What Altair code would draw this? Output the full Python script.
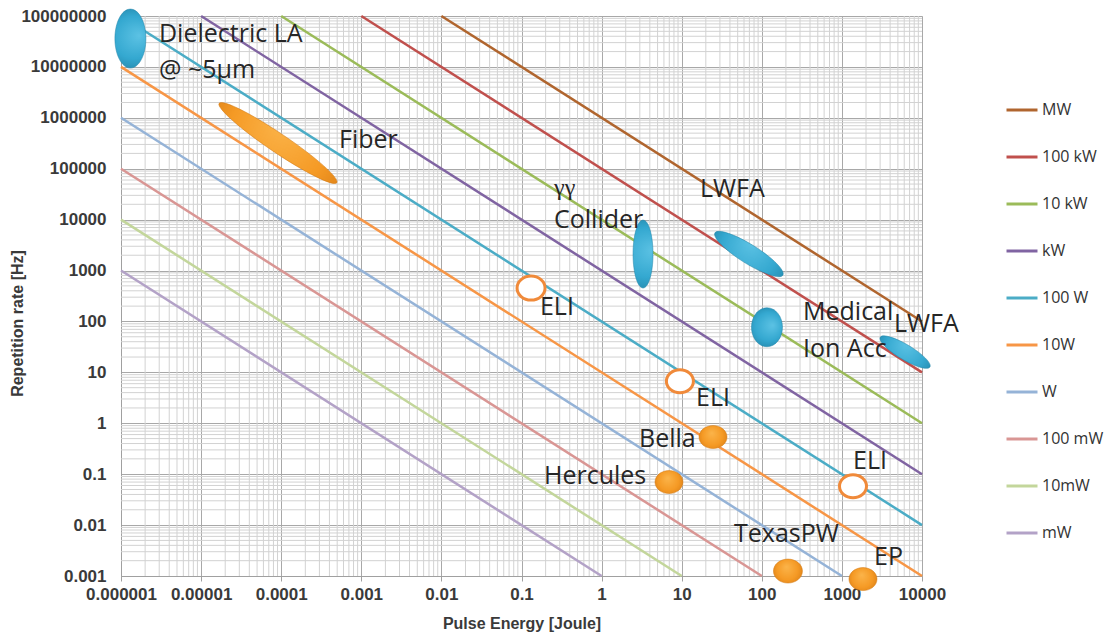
import altair as alt
import pandas as pd

# ---------------- data ----------------
X_MIN, X_MAX = 1e-6, 1e4
Y_MIN, Y_MAX = 1e-3, 1e8

series_names = ["MW", "100 kW", "10 kW", "kW", "100 W", "10W", "W", "100 mW", "10mW", "mW"]
series_power = [1e6, 1e5, 1e4, 1e3, 1e2, 1e1, 1.0, 1e-1, 1e-2, 1e-3]
series_colors = ["#B0652E", "#C0504D", "#9BBB59", "#8064A2", "#4BACC6",
                 "#F79646", "#95B3D7", "#D99694", "#C3D69B", "#B3A2C7"]

x_ticks = [1e-6, 1e-5, 1e-4, 1e-3, 1e-2, 1e-1, 1, 10, 100, 1000, 10000]
y_ticks = [1e-3, 1e-2, 1e-1, 1, 10, 100, 1e3, 1e4, 1e5, 1e6, 1e7, 1e8]

# blue (teal) regions: Dielectric LA, gamma-gamma collider, LWFA, Medical, LWFA
teal_energy = [1.31e-6, 3.29, 69.0, 116.0, 6150.0]
teal_rate = [3.6e7, 2110.0, 2110.0, 77.0, 25.0]
# orange filled regions: Fiber, Bella, Hercules, TexasPW, EP
orange_energy = [9.12e-5, 24.6, 6.94, 212.0, 1833.0]
orange_rate = [3.2e5, 0.536, 0.070, 0.00125, 0.00087]
# open ELI circles
eli_energy = [0.1316, 9.5, 1376.0]
eli_rate = [453.0, 6.7, 0.058]

label_text = ["Dielectric LA", "@ ~5\u03bcm", "Fiber", "Collider", "LWFA", "Medical",
              "Ion Acc", "LWFA", "ELI", "ELI", "Bella", "Hercules", "TexasPW", "ELI", "EP"]
label_energy = [2.98e-6, 2.98e-6, 5.27e-4, 0.2547, 16.9, 327.0,
                327.0, 4470.0, 0.170, 15.1, 2.93, 0.191, 45.0, 1377.0, 2518.0]
label_rate = [3.08e7, 6.05e6, 2.55e5, 6840.0, 27800.0, 107.0,
              20.0, 62.0, 134.0, 2.18, 0.340, 0.064, 0.00463, 0.126, 0.00164]
gamma_text = ["\u03b3\u03b3"]
gamma_energy = [0.2547]
gamma_rate = [30400.0]

# glyph styles (pixel semi-axes and rotation) kept apart from the data
teal_style = [(29.5, 15.5, 90), (34, 10, 90), (40, 9.5, 32), (19.5, 15.5, 90), (29, 7.5, 31)]
orange_style = [(71, 9.5, 34), (14, 11.5, 0), (14, 11.5, 0), (14.5, 12, 0), (14, 11.5, 0)]
eli_style = [(14, 12, 0), (13.5, 11.5, 0), (13.5, 11.5, 0)]


def ellipse_path(r):
    k = 0.5523
    r = round(r, 4)
    kr = round(k * r, 4)
    return (f"M 1 0 C 1 {kr} {k} {r} 0 {r} C {-k} {r} -1 {kr} -1 0 "
            f"C -1 {-kr} {-k} {-r} 0 {-r} C {k} {-r} 1 {-kr} 1 0 Z")


def glyph_df(xs, ys, styles):
    rows = []
    for x, y, (a, b, ang) in zip(xs, ys, styles):
        rows.append({"E": x, "R": y, "path": ellipse_path(b / a),
                     "size": 4 * a * a, "angle": ang})
    return pd.DataFrame(rows)


# iso-power lines clipped to the plot domain
line_rows = []
for name, p in zip(series_names, series_power):
    x0 = max(X_MIN, p / Y_MAX)
    x1 = min(X_MAX, p / Y_MIN)
    line_rows.append({"series": name, "E": x0, "R": p / x0, "o": 0})
    line_rows.append({"series": name, "E": x1, "R": p / x1, "o": 1})
lines_df = pd.DataFrame(line_rows)

x_minor = [m * 10.0 ** k for k in range(-6, 4) for m in range(2, 10)]
y_minor = [m * 10.0 ** k for k in range(-3, 8) for m in range(2, 10)]

# ---------------- encodings ----------------
AX_FONT = "Liberation Sans"
xscale = alt.Scale(type="log", domain=[X_MIN, X_MAX], nice=False)
yscale = alt.Scale(type="log", domain=[Y_MIN, Y_MAX], nice=False)

xaxis = alt.Axis(values=x_ticks, labelExpr="format(datum.value, '.6~f')",
                 grid=True, gridColor="#A8A8A8", gridWidth=1,
                 domainColor="#A0A0A0", tickColor="#A0A0A0", tickSize=5,
                 labelFont=AX_FONT, labelFontSize=17, labelFontWeight="bold",
                 labelColor="#3A3A3A", labelPadding=5, labelFlush=False,
                 title="Pulse Energy [Joule]", titleFont=AX_FONT, titleFontSize=16,
                 titleFontWeight="bold", titleColor="#3A3A3A",
                 titleX=400.5, titleY=52, titleBaseline="alphabetic")
yaxis = alt.Axis(values=y_ticks, labelExpr="format(datum.value, '.6~f')",
                 grid=True, gridColor="#A8A8A8", gridWidth=1,
                 domainColor="#A0A0A0", ticks=False, tickSize=0,
                 labelFont=AX_FONT, labelFontSize=17, labelFontWeight="bold",
                 labelColor="#3A3A3A", labelPadding=15, labelFlush=False,
                 title="Repetition rate [Hz]", titleFont=AX_FONT, titleFontSize=16,
                 titleFontWeight="bold", titleColor="#3A3A3A",
                 titleX=-99, titleY=307, titleBaseline="alphabetic", titleAngle=-90)


def X(field="E"):
    return alt.X(f"{field}:Q", scale=xscale, axis=xaxis)


def Y(field="R"):
    return alt.Y(f"{field}:Q", scale=yscale, axis=yaxis)


grid_v = alt.Chart(pd.DataFrame({"E": x_minor})).mark_rule(
    color="#D2D2D2", strokeWidth=1).encode(x=X())
grid_h = alt.Chart(pd.DataFrame({"R": y_minor})).mark_rule(
    color="#D2D2D2", strokeWidth=1).encode(y=Y())

lines = alt.Chart(lines_df).mark_line(strokeWidth=2.5).encode(
    x=X(), y=Y(), order="o:Q",
    color=alt.Color("series:N",
                    scale=alt.Scale(domain=series_names, range=series_colors),
                    sort=series_names,
                    legend=alt.Legend(title=None, orient="none", legendX=884, legendY=77,
                                      symbolType="stroke", symbolSize=961,
                                      symbolStrokeWidth=3, labelFont="Open Sans",
                                      labelFontSize=16, labelColor="#333333",
                                      labelOffset=3, rowPadding=22, padding=0)))

teal_fill = {"gradient": "radial", "x1": 0.45, "y1": 0.35, "r1": 0,
             "x2": 0.5, "y2": 0.5, "r2": 0.6,
             "stops": [{"offset": 0, "color": "#5CC2E4"},
                       {"offset": 0.6, "color": "#34A8D0"},
                       {"offset": 1, "color": "#2385A8"}]}
orange_fill = {"gradient": "radial", "x1": 0.45, "y1": 0.35, "r1": 0,
               "x2": 0.5, "y2": 0.5, "r2": 0.6,
               "stops": [{"offset": 0, "color": "#FBB44A"},
                         {"offset": 0.6, "color": "#F59A25"},
                         {"offset": 1, "color": "#D97D15"}]}


def glyph_layer(df, **mark):
    return alt.Chart(df).mark_point(opacity=1, **mark).encode(
        x=X(), y=Y(),
        shape=alt.Shape("path:N", scale=None),
        size=alt.Size("size:Q", scale=None),
        angle=alt.Angle("angle:Q", scale=None))


teal = glyph_layer(glyph_df(teal_energy, teal_rate, teal_style),
                   filled=True, fill=teal_fill, stroke="#2385A8", strokeWidth=0.5)
orange = glyph_layer(glyph_df(orange_energy, orange_rate, orange_style),
                     filled=True, fill=orange_fill, stroke="#D27812", strokeWidth=0.5)
eli = glyph_layer(glyph_df(eli_energy, eli_rate, eli_style),
                  filled=False, fill="#FFFFFF", stroke="#F08A3A", strokeWidth=3)

labels = alt.Chart(pd.DataFrame({"t": label_text, "E": label_energy, "R": label_rate})).mark_text(
    align="left", baseline="alphabetic", font="Open Sans", fontSize=25, color="#262626"
).encode(x=X(), y=Y(), text="t:N")
gamma = alt.Chart(pd.DataFrame({"t": gamma_text, "E": gamma_energy, "R": gamma_rate})).mark_text(
    align="left", baseline="alphabetic", font="Liberation Serif", fontSize=24, color="#262626"
).encode(x=X(), y=Y(), text="t:N")

chart = alt.layer(grid_v, grid_h, lines, teal, orange, eli, labels, gamma).properties(
    width=801, height=560,
    padding={"left": 113, "top": 8, "right": 182, "bottom": 58},
    autosize=alt.AutoSizeParams(type="none"),
).configure_view(stroke=None).configure(background="#FFFFFF")

chart.save("out.html", embed_options={"renderer": "svg", "actions": False})
